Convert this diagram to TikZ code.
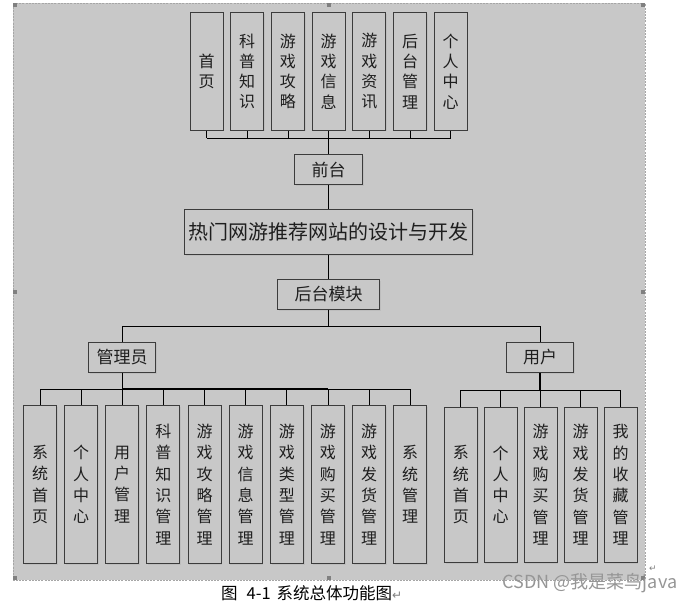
\documentclass[tikz,border=0pt]{standalone}
\usepackage{fontspec}
\setmainfont{Noto Sans CJK SC}
\newfontfamily\dejavu{DejaVu Sans}
\usetikzlibrary{shadows}
\definecolor{bg}{RGB}{200,200,200}
\definecolor{boxline}{RGB}{60,60,60}
\definecolor{txt}{RGB}{30,30,30}
\definecolor{handle}{RGB}{128,128,128}
\definecolor{wm}{RGB}{150,150,150}
\tikzset{
  box/.style={draw=boxline, line width=1pt, fill=bg, inner sep=0pt, text=txt,
    drop shadow={shadow xshift=1.2pt, shadow yshift=-1.2pt, opacity=0.15}},
  vbox/.style={box, minimum width=33pt, align=center},
  topv/.style={vbox, minimum height=117.3pt, font=\fontsize{16}{20.3}\selectfont},
  admv/.style={vbox, minimum height=158.4pt, font=\fontsize{16}{21.3}\selectfont},
  usrv/.style={vbox, minimum height=155pt, font=\fontsize{16}{21.3}\selectfont},
  hbox/.style={box, font=\fontsize{17}{20}\selectfont},
  conn/.style={draw=black, line width=0.8pt},
  thickconn/.style={draw=black, line width=1.4pt},
  hdl/.style={fill=handle, draw=none}
}
\begin{document}
\begin{tikzpicture}[x=1pt,y=-1pt]
\useasboundingbox (0,0) rectangle (699,603);
\fill[white] (0,0) rectangle (699,603);
% background panel
\fill[bg] (13.3,3.3) rectangle (645.3,580);
\draw[draw=gray!70, line width=0.6pt, dash pattern=on 2pt off 1.2pt] (13.3,3.3) rectangle (645.3,580);
\foreach \hx/\hy in {13.3/3.3, 327.3/3.3, 641.3/3.3, 13.3/290, 641.3/290, 13.3/576, 327.3/576, 641.3/576}
  \fill[hdl] (\hx,\hy) rectangle ++(4,4);

% top boxes
\node[topv] (t1) at (206.5,71.35) {首\\页};
\node[topv] (t2) at (247.2,71.35) {科\\普\\知\\识};
\node[topv] (t3) at (287.9,71.35) {游\\戏\\攻\\略};
\node[topv] (t4) at (328.6,71.35) {游\\戏\\信\\息};
\node[topv] (t5) at (369.3,71.35) {游\\戏\\资\\讯};
\node[topv] (t6) at (410.0,71.35) {后\\台\\管\\理};
\node[topv] (t7) at (450.7,71.35) {个\\人\\中\\心};
\coordinate (tbus) at (0,138.3);

\node[hbox, minimum width=67.6pt, minimum height=30pt] (qt) at (328.6,169.7) {前台};
\node[box, minimum width=288.4pt, minimum height=45.4pt, font=\fontsize{20}{24}\selectfont] (main) at (328.6,232) {热门网游推荐网站的设计与开发};
\node[hbox, minimum width=101.6pt, minimum height=30pt] (ht) at (328.6,294.3) {后台模块};
\coordinate (mbus) at (0,326.5);

\node[hbox, minimum width=67pt, minimum height=30.3pt] (gly) at (122.2,357.2) {管理员};
\node[hbox, minimum width=67.4pt, minimum height=30.3pt] (yh) at (540,357.2) {用户};
\coordinate (abus) at (0,389);
\coordinate (ubus) at (0,390.3);

% admin boxes
\node[admv] (a1) at (40.0,484.5) {系\\统\\首\\页};
\node[admv] (a2) at (81.1,484.5) {个\\人\\中\\心};
\node[admv] (a3) at (122.2,484.5) {用\\户\\管\\理};
\node[admv] (a4) at (163.4,484.5) {科\\普\\知\\识\\管\\理};
\node[admv] (a5) at (204.5,484.5) {游\\戏\\攻\\略\\管\\理};
\node[admv] (a6) at (245.6,484.5) {游\\戏\\信\\息\\管\\理};
\node[admv] (a7) at (286.8,484.5) {游\\戏\\类\\型\\管\\理};
\node[admv] (a8) at (327.9,484.5) {游\\戏\\购\\买\\管\\理};
\node[admv] (a9) at (369.0,484.5) {游\\戏\\发\\货\\管\\理};
\node[admv] (a10) at (410.2,484.5) {系\\统\\管\\理};

% user boxes
\node[usrv] (u1) at (460.8,484.8) {系\\统\\首\\页};
\node[usrv] (u2) at (500.7,484.8) {个\\人\\中\\心};
\node[usrv] (u3) at (540.7,484.8) {游\\戏\\购\\买\\管\\理};
\node[usrv] (u4) at (580.7,484.8) {游\\戏\\发\\货\\管\\理};
\node[usrv] (u5) at (620.7,484.8) {我\\的\\收\\藏\\管\\理};

% connectors: top
\foreach \i in {1,2,3,5,6,7}
  \draw[conn] (t\i.south) -- (t\i.south |- tbus);
\draw[conn] (t1.south |- tbus) -- (t7.south |- tbus);
\draw[conn] (t4.south) -- (qt.north);
\draw[conn] (qt.south) -- (main.north);
\draw[conn] (main.south) -- (ht.north);
\draw[conn] (ht.south) -- (ht.south |- mbus);
\draw[conn] (gly.north) |- (yh.north |- mbus) -- (yh.north);
% admin
\foreach \i in {1,...,10}
  \draw[conn] (a\i.north) -- (a\i.north |- abus);
\draw[conn] (a1.north |- abus) -- (a10.north |- abus);
\draw[thickconn] (a3.north |- abus) -- (a8.north |- abus);
\draw[thickconn] (gly.south) -- (gly.south |- abus);
% user
\foreach \i in {1,...,5}
  \draw[conn] (u\i.north) -- (u\i.north |- ubus);
\draw[conn] (u1.north |- ubus) -- (u5.north |- ubus);
\draw[thickconn] (yh.south) -- (yh.south |- ubus);

% caption
\node[anchor=west, inner sep=0pt, text=black, font=\fontsize{16.5}{19}\selectfont] (cap) at (221,593.5) {图\hspace{9pt}4-1\hspace{6pt}系统总体功能图{\dejavu\fontsize{12}{14}\selectfont\color{gray}↵}};
% watermark
\node[inner sep=0pt, text=wm, font=\fontsize{18}{20}\selectfont] (wmk) at (590,583) {CSDN @我是菜鸟java};
\node[inner sep=0pt, text=gray, font=\dejavu\fontsize{9}{11}\selectfont] (pm) at (653,568.5) {↵};
\end{tikzpicture}
\end{document}
